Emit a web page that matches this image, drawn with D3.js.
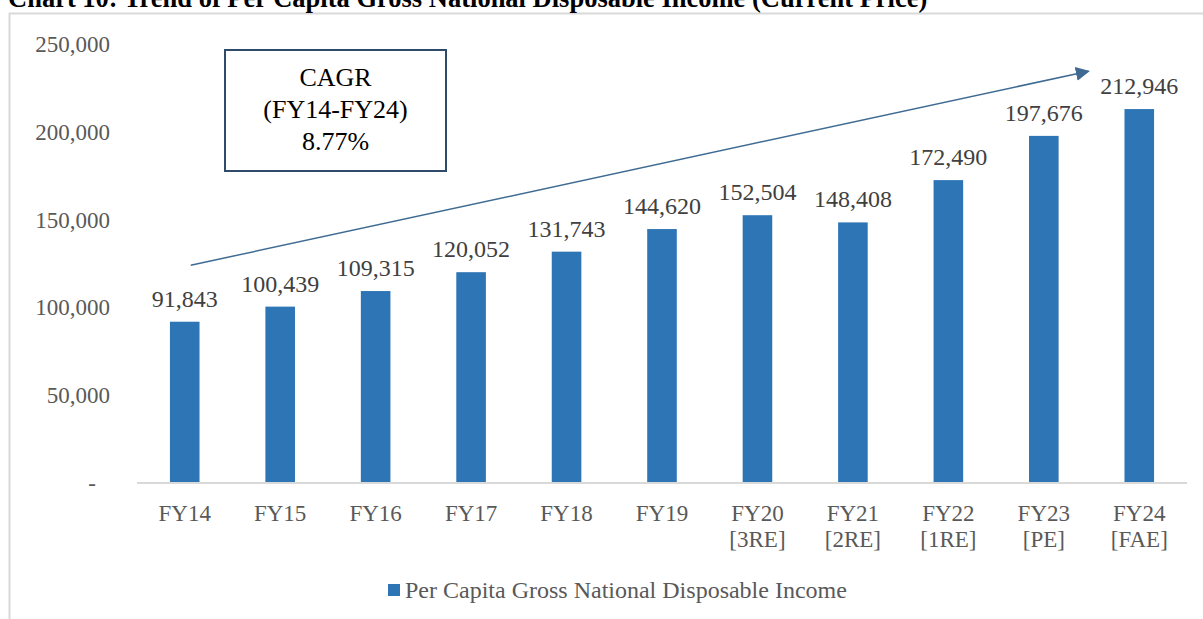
<!DOCTYPE html>
<html>
<head>
<meta charset="utf-8">
<script src="https://cdn.jsdelivr.net/npm/d3@7"></script>
<style>
	body { margin: 0; background: #fff; }
	svg { display: block; font-family: "Liberation Serif", "Times New Roman", serif; }
</style>
</head>
<body>
<div class="vis"></div>
<script>
// chart data
var categories = ['FY14', 'FY15', 'FY16', 'FY17', 'FY18', 'FY19', 'FY20', 'FY21', 'FY22', 'FY23', 'FY24'];
var subLabels = ['', '', '', '', '', '', '[3RE]', '[2RE]', '[1RE]', '[PE]', '[FAE]'];
var values = [91843, 100439, 109315, 120052, 131743, 144620, 152504, 148408, 172490, 197676, 212946];
var yTicks = [0, 50000, 100000, 150000, 200000, 250000];
var seriesName = 'Per Capita Gross National Disposable Income';
var cagrLines = ['CAGR', '(FY14-FY24)', '8.77%'];
// trend arrow, in data terms: [category, value]
var arrowFrom = ['FY14', 124000];
var arrowTo = ['FY24', 234500];

var width = 1203, height = 619;
var margin = {top: 44, right: 16, bottom: 136, left: 137};

var svg = d3.select('.vis').append('svg')
	.attr('width', width)
	.attr('height', height);

// chart area border
svg.append('rect')
	.attr('x', 9.5).attr('y', 13.5)
	.attr('width', 1210).attr('height', 640)
	.attr('fill', 'none')
	.attr('stroke', '#d9d9d9')
	.attr('stroke-width', 2);

svg.append('text')
	.attr('x', 8).attr('y', 7)
	.attr('font-size', 26.5)
	.attr('font-weight', 'bold')
	.attr('fill', '#000')
	.text('Chart 10: Trend of Per Capita Gross National Disposable Income (Current Price)');

var scaleX = d3.scaleBand()
	.domain(categories)
	.range([margin.left, 1187])
	.paddingInner(0.69)
	.paddingOuter(0.345);

var scaleY = d3.scaleLinear()
	.domain([0, 250000])
	.range([483, margin.top]);

var fmt = d3.format(',');

// y axis labels
var yAxis = d3.axisLeft(scaleY)
	.tickValues(yTicks)
	.tickSize(0)
	.tickPadding(0)
	.tickFormat(function(d) { return d === 0 ? '-' : fmt(d); });

var yG = svg.append('g')
	.attr('transform', 'translate(110,0)')
	.call(yAxis);
yG.select('.domain').remove();
yG.selectAll('text')
	.attr('font-size', 23)
	.attr('font-family', 'Liberation Serif, serif')
	.attr('fill', '#595959')
	.attr('dy', '0.33em');
yG.selectAll('text').filter(function(d) { return d === 0; })
	.attr('dx', -14);

// bars
svg.selectAll('.bar')
	.data(values)
	.enter().append('rect')
	.attr('class', 'bar')
	.attr('x', function(d, i) { return scaleX(categories[i]); })
	.attr('width', scaleX.bandwidth())
	.attr('y', function(d) { return scaleY(d); })
	.attr('height', function(d) { return scaleY(0) - scaleY(d); })
	.attr('fill', '#2e75b6');

// baseline
svg.append('line')
	.attr('x1', margin.left).attr('x2', 1187)
	.attr('y1', scaleY(0)).attr('y2', scaleY(0))
	.attr('stroke', '#d9d9d9')
	.attr('stroke-width', 2);

// value labels
svg.selectAll('.val')
	.data(values)
	.enter().append('text')
	.attr('class', 'val')
	.attr('x', function(d, i) { return scaleX(categories[i]) + scaleX.bandwidth() / 2; })
	.attr('y', function(d) { return scaleY(d) - 15; })
	.attr('text-anchor', 'middle')
	.attr('font-size', 24)
	.attr('fill', '#404040')
	.text(function(d) { return fmt(d); });

// x labels
var xl = svg.selectAll('.xl')
	.data(categories)
	.enter().append('text')
	.attr('class', 'xl')
	.attr('text-anchor', 'middle')
	.attr('font-size', 23)
	.attr('fill', '#595959')
	.attr('x', function(d) { return scaleX(d) + scaleX.bandwidth() / 2; })
	.attr('y', 521);
xl.append('tspan').text(function(d) { return d; });
xl.append('tspan')
	.attr('x', function(d) { return scaleX(d) + scaleX.bandwidth() / 2; })
	.attr('dy', 26)
	.text(function(d, i) { return subLabels[i]; });

// arrow
svg.append('defs').append('marker')
	.attr('id', 'head')
	.attr('viewBox', '0 0 10 10')
	.attr('refX', 9).attr('refY', 5)
	.attr('markerWidth', 14).attr('markerHeight', 14)
	.attr('markerUnits', 'userSpaceOnUse')
	.attr('orient', 'auto')
	.append('path')
	.attr('d', 'M0,0L10,5L0,10z')
	.attr('fill', '#3f6b93');

svg.append('line')
	.attr('x1', scaleX(arrowFrom[0]) + scaleX.bandwidth() / 2 + 6)
	.attr('y1', scaleY(arrowFrom[1]))
	.attr('x2', scaleX(arrowTo[0]) - 36)
	.attr('y2', scaleY(arrowTo[1]))
	.attr('stroke', '#3f6b93')
	.attr('stroke-width', 1.5)
	.attr('marker-end', 'url(#head)');

// CAGR box
var box = svg.append('g');
box.append('rect')
	.attr('x', 225).attr('y', 50)
	.attr('width', 221).attr('height', 121)
	.attr('fill', '#fff')
	.attr('stroke', '#2f4b6b')
	.attr('stroke-width', 2);
box.selectAll('text')
	.data(cagrLines)
	.enter().append('text')
	.attr('x', 335.5)
	.attr('y', function(d, i) { return 86 + i * 32; })
	.attr('text-anchor', 'middle')
	.attr('font-size', 26)
	.attr('fill', '#000')
	.text(function(d) { return d; });

// legend
var lg = svg.append('g').attr('transform', 'translate(388,584)');
lg.append('rect')
	.attr('width', 12).attr('height', 12)
	.attr('fill', '#2e75b6');
lg.append('text')
	.attr('x', 17).attr('y', 14)
	.attr('font-size', 24)
	.attr('fill', '#595959')
	.text(seriesName);
</script>
</body>
</html>
